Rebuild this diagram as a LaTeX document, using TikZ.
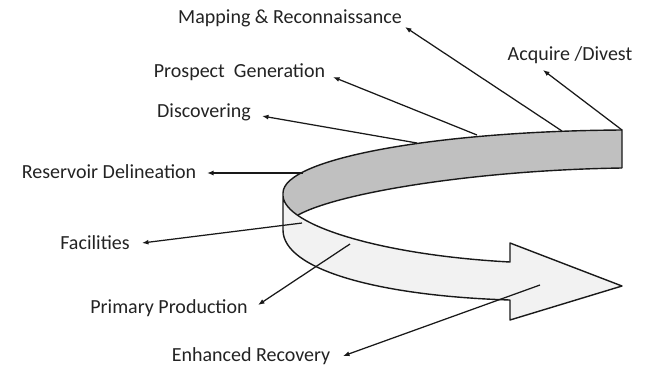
\documentclass[tikz,border=0pt]{standalone}
\usepackage{fontspec}
\setmainfont{Carlito}
\usetikzlibrary{arrows.meta}
\definecolor{bandgray}{RGB}{192,192,192}
\definecolor{bandlight}{RGB}{242,242,242}
\definecolor{txt}{RGB}{35,35,35}
\begin{document}
\begin{tikzpicture}[x=1pt,y=-1pt,
  lbl/.style={inner sep=0pt, text=txt, font=\fontsize{20}{22}\selectfont},
  conn/.style={line width=1.25pt, draw=black!90, -{Latex[length=6.5pt,width=5pt]}},
  edge/.style={line width=1.4pt, draw=black!90, line join=round}]
\useasboundingbox (0,0) rectangle (650,368);
% ribbon back (inner, gray) face
\fill[bandgray] (622,130) .. controls (440,131) and (283,158) .. (283,193)
  -- (283,238) -- (298,215) .. controls (340,192) and (480,170) .. (622,168) -- cycle;
% ribbon front face with arrow head
\fill[bandlight] (283,196) .. controls (285,225) and (380,255) .. (510,262)
  -- (510,243) -- (622,286) -- (510,320) -- (510,300)
  .. controls (380,296) and (283,270) .. (283,230) -- cycle;
% outlines
\draw[edge] (622,168) -- (622,130) .. controls (440,131) and (283,158) .. (283,193) -- (283,230)
  .. controls (283,270) and (380,296) .. (510,300) -- (510,320) -- (622,286) -- (510,243) -- (510,262)
  .. controls (380,255) and (285,225) .. (283,196);
\draw[edge] (622,168) .. controls (480,170) and (340,192) .. (298,215);
% labels
\node[lbl] (map) at (290,18) {Mapping \& Reconnaissance};
\node[lbl] (acq) at (570,55) {Acquire /Divest};
\node[lbl] (pro) at (239.5,72) {Prospect\ \ Generation};
\node[lbl] (dis) at (204,112) {Discovering};
\node[lbl] (res) at (109,172) {Reservoir Delineation};
\node[lbl] (fac) at (95,243) {Facilities};
\node[lbl] (pri) at (169,308) {Primary Production};
\node[lbl] (enh) at (251,356) {Enhanced Recovery};
% connector end points
\coordinate (mapS) at (562,131);  \coordinate (mapT) at (405,27);
\coordinate (acqS) at (622,130);  \coordinate (acqT) at (543,70);
\coordinate (proS) at (477,135);  \coordinate (proT) at (333,77);
\coordinate (disS) at (417,143);  \coordinate (disT) at (262,116);
\coordinate (resS) at (303,173);  \coordinate (resT) at (207,173);
\coordinate (facS) at (302,223);  \coordinate (facT) at (142,243);
\coordinate (priS) at (350,244);  \coordinate (priT) at (258,305);
\coordinate (enhS) at (540,285);  \coordinate (enhT) at (343,356);
\draw[conn] (mapS) -- (mapT);
\draw[conn] (acqS) -- (acqT);
\draw[conn] (proS) -- (proT);
\draw[conn] (disS) -- (disT);
\draw[conn] (resS) -- (resT);
\draw[conn] (facS) -- (facT);
\draw[conn] (priS) -- (priT);
\draw[conn] (enhS) -- (enhT);
\end{tikzpicture}
\end{document}
